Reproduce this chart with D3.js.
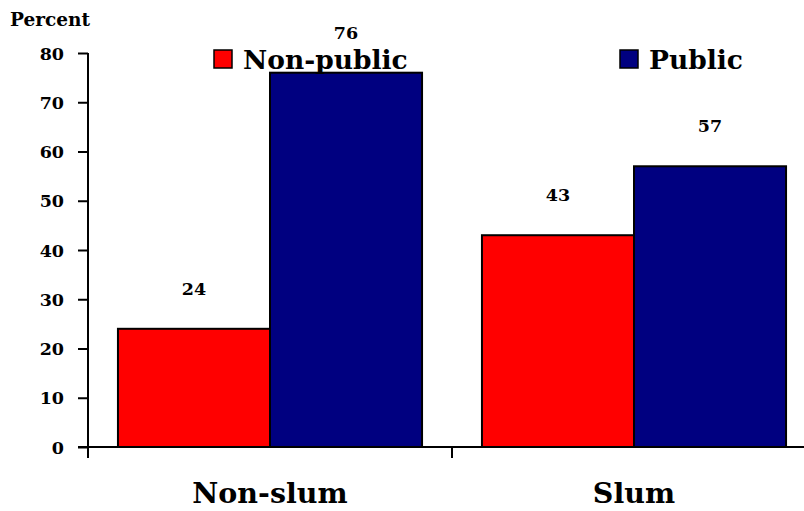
<!DOCTYPE html>
<html><head><meta charset="utf-8">
<script src="https://cdn.jsdelivr.net/npm/d3@7"></script>
<style>body{margin:0;background:#fff}svg{display:block}text{font-family:"DejaVu Serif",serif;font-weight:bold;fill:#000}</style>
</head><body><svg id="c" width="804" height="511"></svg>
<script>
const categories = ["Non-slum", "Slum"];
const seriesNames = ["Non-public", "Public"];
const nonPublic = [24, 43];
const publicVals = [76, 57];
const yTicks = [0, 10, 20, 30, 40, 50, 60, 70, 80];
const colors = ["#FF0000", "#000080"];

const svg = d3.select("#c");
const x = d3.scaleBand().domain(categories).range([88, 816]).paddingInner(0).paddingOuter(0);
const xs = d3.scaleBand().domain(seriesNames).range([0, x.bandwidth()]).paddingInner(0).paddingOuter(0.197);
const y = d3.scaleLinear().domain([0, 80]).range([447, 53]);

// y axis
const ya = svg.append("g").attr("transform", "translate(88,0)")
  .call(d3.axisLeft(y).tickValues(yTicks).tickSize(10).tickPadding(14));
ya.select(".domain").attr("stroke", "#000").attr("stroke-width", 2).attr("d", "M0," + y(80) + "V" + (y(0) + 11));
ya.selectAll(".tick line").attr("stroke", "#000").attr("stroke-width", 2);
ya.selectAll(".tick text").style("font-size", "17.5px").attr("dy", "0.35em");

// bars
const data = categories.map((c, i) => ({c, vals: [nonPublic[i], publicVals[i]]}));
const g = svg.append("g");
data.forEach(d => {
  d.vals.forEach((v, j) => {
    const bx = x(d.c) + xs(seriesNames[j]);
    g.append("rect").attr("x", bx).attr("y", y(v)).attr("width", xs.bandwidth())
      .attr("height", y(0) - y(v)).attr("fill", colors[j]).attr("stroke", "#000").attr("stroke-width", 2);
    g.append("text").attr("x", bx + xs.bandwidth() / 2).attr("y", y(v) - 34)
      .attr("text-anchor", "middle").style("font-size", "17.5px").text(v);
  });
});

// x axis
const xa = svg.append("g").attr("transform", "translate(0,447)");
xa.append("line").attr("x1", 78).attr("x2", 804).attr("y1", 0).attr("y2", 0).attr("stroke", "#000").attr("stroke-width", 2);
[88, 452, 816].forEach(t => xa.append("line").attr("x1", t).attr("x2", t).attr("y1", 0).attr("y2", 11).attr("stroke", "#000").attr("stroke-width", 2));
categories.forEach(c => {
  svg.append("text").attr("x", x(c) + x.bandwidth() / 2).attr("y", 503).attr("text-anchor", "middle")
    .style("font-size", "28.5px").text(c);
});

// Percent label
svg.append("text").attr("x", 10).attr("y", 26).style("font-size", "18.5px").text("Percent");

// legend
const legX = [214, 620];
seriesNames.forEach((s, i) => {
  svg.append("rect").attr("x", legX[i]).attr("y", 50).attr("width", 18).attr("height", 18)
    .attr("fill", colors[i]).attr("stroke", "#000").attr("stroke-width", 1.5);
  svg.append("text").attr("x", legX[i] + 29).attr("y", 69).style("font-size", "26.5px").text(s);
});
</script></body></html>
